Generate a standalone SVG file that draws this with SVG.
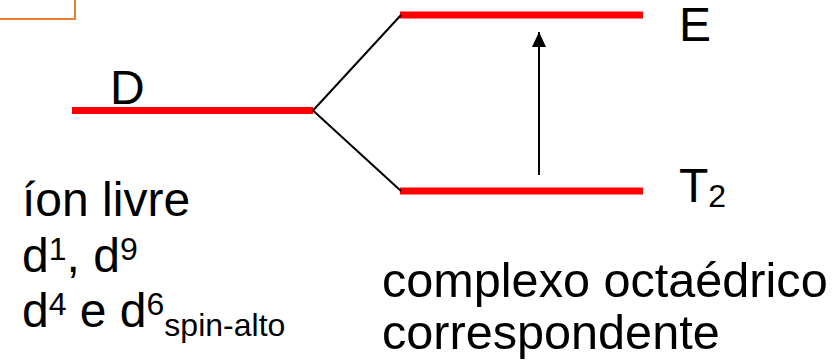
<svg xmlns="http://www.w3.org/2000/svg" width="834" height="363" viewBox="0 0 834 363">
  <style>
    text { font-family: "Liberation Sans", Arial, sans-serif; font-size: 48px; fill: #000; }
    .sm { font-size: 32px; }
    .big { font-size: 48.6px; }
    .level { stroke: #FF0000; stroke-width: 7; fill: none; }
    .conn { stroke: #000; stroke-width: 2; fill: none; }
  </style>
  <defs>
    <marker id="arrowhead" markerWidth="15" markerHeight="14" refX="15" refY="7" orient="auto" markerUnits="userSpaceOnUse">
      <path d="M0,0 L15,7 L0,14 Z" fill="#000"/>
    </marker>
  </defs>
  <rect x="-10" y="-10" width="85" height="29" fill="none" stroke="#ED7D31" stroke-width="2"/>

  <g id="level-D">
    <line class="level" x1="72" y1="110.5" x2="313" y2="110.5"/>
    <text x="110" y="104">D</text>
  </g>
  <g id="level-E">
    <line class="level" x1="400" y1="15" x2="643" y2="15"/>
    <text x="679" y="41">E</text>
  </g>
  <g id="level-T2">
    <line class="level" x1="400" y1="191" x2="643" y2="191"/>
    <text x="679" y="202">T<tspan class="sm" dy="5">2</tspan></text>
  </g>
  <g id="label-free-ion">
    <text x="22" y="216">íon livre</text>
    <text x="22" y="272">d<tspan class="sm" dy="-12">1</tspan><tspan dy="12">, d</tspan><tspan class="sm" dy="-12">9</tspan></text>
    <text x="22" y="327">d<tspan class="sm" dy="-12">4</tspan><tspan dy="12"> e d</tspan><tspan class="sm" dy="-12">6</tspan><tspan class="sm" dy="21">spin-alto</tspan></text>
  </g>
  <g id="label-complex">
    <text class="big" x="382" y="297">complexo octaédrico</text>
    <text class="big" x="382" y="349">correspondente</text>
  </g>
  <g id="connectors">
    <line class="conn" x1="313" y1="110.5" x2="401" y2="15"/>
    <line class="conn" x1="313" y1="110.5" x2="401" y2="191"/>
    <line class="conn" x1="539" y1="175" x2="539" y2="32" marker-end="url(#arrowhead)"/>
  </g>
</svg>
